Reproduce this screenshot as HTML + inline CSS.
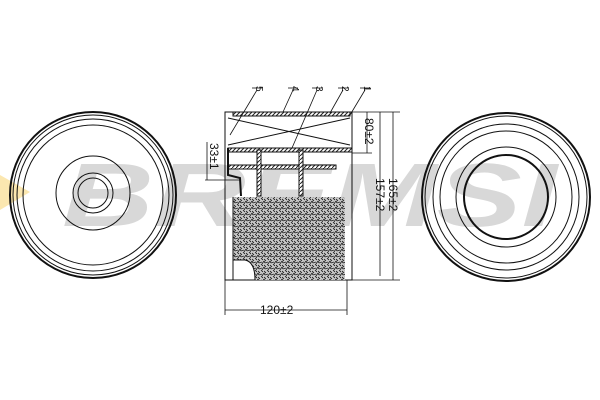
<!DOCTYPE html>
<html><head><style>body{margin:0;background:#fff}svg{display:block}</style></head><body>
<svg width="600" height="400" viewBox="0 0 600 400" xmlns="http://www.w3.org/2000/svg" font-family="Liberation Sans, sans-serif">
<defs>
<pattern id="h" width="4" height="4" patternUnits="userSpaceOnUse"><rect width="4" height="4" fill="#fff"/><path d="M0 4L4 0" stroke="#222" stroke-width="1"/></pattern>
<pattern id="d" width="6" height="6" patternUnits="userSpaceOnUse"><rect width="6" height="6" fill="#ccc"/><path d="M0 1L2 3M3 0L5 2M1 5L4 4M4 6L6 3M0 3L1 5" stroke="#222" stroke-width="0.9"/></pattern>
</defs>
<polygon points="0,175 30,192 0,210" fill="#fbe7b0"/>
<text x="62" y="226" font-size="90" font-weight="bold" font-style="italic" fill="#d8d8d8" textLength="495" lengthAdjust="spacingAndGlyphs">BREMSI</text>
<g fill="none" stroke="#111">
<circle cx="93" cy="195" r="83" stroke-width="2"/><circle cx="93" cy="195" r="80" stroke-width="1"/>
<circle cx="93" cy="195" r="76"/><circle cx="93" cy="195" r="70"/>
<circle cx="93" cy="193" r="37"/><circle cx="93" cy="193" r="20"/><circle cx="93" cy="193" r="15"/>
<circle cx="506" cy="197" r="84" stroke-width="2"/><circle cx="506" cy="197" r="81"/>
<circle cx="506" cy="197" r="73"/><circle cx="506" cy="197" r="66"/>
<circle cx="506" cy="197" r="50"/><circle cx="506" cy="197" r="42" stroke-width="2"/>
</g>
<g stroke="#111" fill="none">
<rect x="225" y="112" width="127" height="168" fill="none"/>
<rect x="233" y="112" width="117" height="4" fill="url(#h)"/>
<line x1="228" y1="118" x2="350" y2="145"/><line x1="228" y1="145" x2="350" y2="118"/>
<rect x="228" y="148" width="124" height="4" fill="url(#h)"/>
<rect x="228" y="165" width="108" height="4" fill="url(#h)"/>
<rect x="257" y="150" width="4" height="46" fill="url(#h)"/>
<rect x="299" y="150" width="4" height="46" fill="url(#h)"/>
<path d="M228 148 L228 175 L240 178 L241 196" fill="none" stroke-width="2"/>
<rect x="233" y="197" width="112" height="83" fill="url(#d)" stroke="none"/>
<path d="M233 260 L245 260 Q255 262 255 280 L233 280Z" fill="#fff"/>
<line x1="233" y1="197" x2="233" y2="260"/>
</g>
<g stroke="#111" stroke-width="0.8" fill="#111">
<line x1="352" y1="112" x2="400" y2="112"/><line x1="352" y1="280" x2="400" y2="280"/>
<line x1="393" y1="112" x2="393" y2="280"/><line x1="380" y1="112" x2="380" y2="276"/>
<line x1="367" y1="112" x2="367" y2="153"/><line x1="352" y1="153" x2="372" y2="153"/>
<line x1="225" y1="280" x2="225" y2="315"/><line x1="347" y1="280" x2="347" y2="315"/>
<line x1="225" y1="310" x2="347" y2="310"/>
<line x1="207" y1="142" x2="207" y2="180"/><line x1="205" y1="180" x2="240" y2="180"/>
<line x1="257" y1="90" x2="230" y2="135"/><line x1="293" y1="90" x2="283" y2="112"/>
<line x1="317" y1="90" x2="292" y2="148"/><line x1="343" y1="90" x2="330" y2="113"/><line x1="365" y1="90" x2="350" y2="115"/>
<line x1="252" y1="88" x2="262" y2="88"/><line x1="288" y1="88" x2="298" y2="88"/><line x1="312" y1="88" x2="322" y2="88"/><line x1="338" y1="88" x2="348" y2="88"/><line x1="360" y1="88" x2="370" y2="88"/>
</g>
<g font-size="12" fill="#111">
<text x="260" y="314">120±2</text>
<text transform="translate(389,178) rotate(90)">165±2</text>
<text transform="translate(376,178) rotate(90)">157±2</text>
<text transform="translate(365,118) rotate(90)">80±2</text>
<text transform="translate(210,143) rotate(90)">33±1</text>
<text transform="translate(256,86) rotate(90)" font-size="10">5</text>
<text transform="translate(292,86) rotate(90)" font-size="10">4</text>
<text transform="translate(316,86) rotate(90)" font-size="10">3</text>
<text transform="translate(342,86) rotate(90)" font-size="10">2</text>
<text transform="translate(364,86) rotate(90)" font-size="10">1</text>
</g>
</svg>
</body></html>
